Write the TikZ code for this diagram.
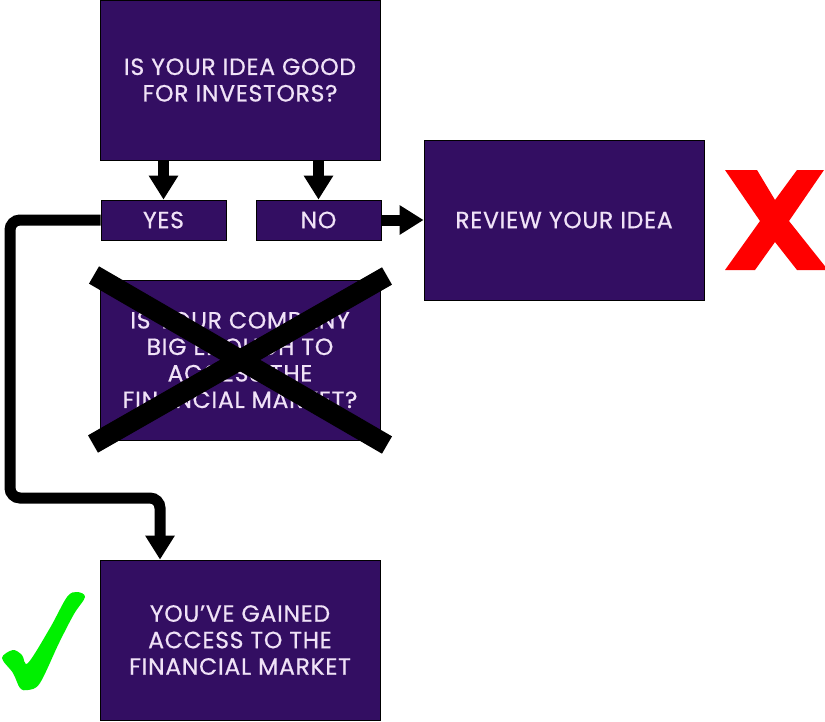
\documentclass[tikz,border=0pt]{standalone}
\usepackage{fontspec}
\setmainfont{Poppins}[LetterSpace=3, FakeBold=0.6]
\usetikzlibrary{arrows.meta}
\definecolor{boxfill}{HTML}{330E62}
\definecolor{boxtext}{HTML}{F0E2F7}
\definecolor{crossred}{HTML}{FF0000}
\definecolor{checkgreen}{HTML}{00F000}
\tikzset{
  box/.style={draw=black, line width=0.8pt, fill=boxfill, text=boxtext, align=center,
    font=\fontsize{23.5}{26.5}\selectfont, inner sep=0pt},
  bigbox/.style={box, minimum width=280pt, minimum height=160pt},
  smallbox/.style={box, minimum width=125pt, minimum height=40pt},
  conn/.style={draw=black, line width=11pt, -{Triangle[width=28pt,length=24pt]}},
  strike/.style={draw=black, line width=20pt, line cap=butt}
}
\begin{document}
\begin{tikzpicture}[x=1pt,y=-1pt]
\useasboundingbox (0,0) rectangle (825,721);
\node[bigbox] (top) at (240,80) {IS YOUR IDEA GOOD\\FOR INVESTORS?};
\node[smallbox] (yes) at (163.5,220) {YES};
\node[smallbox] (no) at (318.5,220) {NO};
\node[bigbox] (review) at (564,220) {REVIEW YOUR IDEA};
\node[bigbox] (mid) at (240,360) {IS YOUR COMPANY\\BIG ENOUGH TO\\ACCESS THE\\FINANCIAL MARKET?};
\node[bigbox] (gain) at (240,640) {YOU{\char"27}VE GAINED\\ACCESS TO THE\\FINANCIAL MARKET};

\coordinate (ya) at (top.south -| yes.north);
\coordinate (na) at (top.south -| no.north);
\draw[conn] (ya) -- (yes.north);
\draw[conn] (na) -- (no.north);
\draw[conn] (no.east) -- (review.west);

\coordinate (c1) at (10,220);
\coordinate (c2) at (10,498);
\coordinate (c3) at (160,498);
\coordinate (c4) at (gain.north -| c3);
\draw[conn, rounded corners=10pt] (yes.west) -- (c1) -- (c2) -- (c3) -- (c4);

\coordinate (s1) at (94,275);
\coordinate (s2) at (387,445);
\coordinate (s3) at (387,276);
\coordinate (s4) at (93,444);
\draw[strike] (s1) -- (s2);
\draw[strike] (s3) -- (s4);

\fill[crossred] (725,170) -- (757,170) -- (775,200) -- (797,170) -- (824,170)
  -- (789,221) -- (828,270) -- (797,270) -- (775,242) -- (755,270) -- (725,270)
  -- (760,221) -- cycle;

\fill[checkgreen] plot[smooth cycle, tension=0.55] coordinates {
  (2,658) (13,650) (22,655) (28,663) (50,628) (67,597) (77,592) (85,597)
  (74,614) (59,643) (40,683) (28,690) (20,688) (13,673)};
\end{tikzpicture}
\end{document}
